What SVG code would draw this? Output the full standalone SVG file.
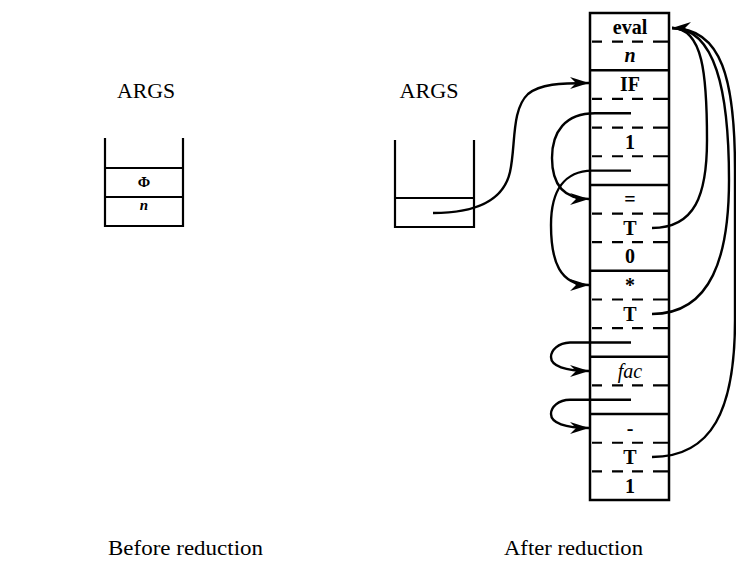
<svg xmlns="http://www.w3.org/2000/svg" xmlns:xlink="http://www.w3.org/1999/xlink" width="736" height="569" viewBox="0 0 736 569">
  <style>
    .bg { fill: #ffffff; }
    .box { fill: none; stroke: #000; stroke-width: 2.5; }
    .sep { stroke: #000; stroke-width: 2.5; fill: none; }
    .dsh { stroke: #000; stroke-width: 2.2; fill: none; }
    .stk { fill: none; stroke: #000; stroke-width: 2.2; }
    .ptr { stroke: #000; stroke-width: 2.2; fill: none; }
    .conn { fill: none; stroke: #000; stroke-width: 2.4; }
    .cell { font-family: "Liberation Serif", "Times New Roman", serif; font-weight: bold; font-size: 20px; text-anchor: middle; fill: #000; }
    .ital { font-style: italic; }
    .lbl { font-family: "Liberation Serif", "Times New Roman", serif; font-size: 22px; fill: #000; }
    .small { font-family: "Liberation Serif", "Times New Roman", serif; font-weight: bold; font-size: 15px; text-anchor: middle; fill: #000; }
  </style>
  <defs>
    <marker id="arr" viewBox="-20 -7 21 14" refX="0" refY="0" markerWidth="21" markerHeight="14" markerUnits="userSpaceOnUse" orient="auto">
      <path d="M0,0 L-19,-6 L-13,0 L-19,6 Z" fill="#000"/>
    </marker>
    <path id="dash" class="dsh" d="M592,0 H602 M612,0 H623 M632,0 H643 M653,0 H669"/>
    <line id="solid" class="sep" x1="590" y1="0" x2="669" y2="0"/>
  </defs>
  <rect class="bg" x="0" y="0" width="736" height="569"/>

  <!-- Before reduction: ARGS stack -->
  <g id="args-before">
    <text class="lbl" x="146" y="98" text-anchor="middle" textLength="58" lengthAdjust="spacingAndGlyphs">ARGS</text>
    <path class="stk" d="M105,138 V226 H183 V138"/>
    <line class="stk" x1="105" y1="168" x2="183" y2="168"/>
    <line class="stk" x1="105" y1="197" x2="183" y2="197"/>
    <text class="small" x="144" y="187">Φ</text>
    <text class="small ital" x="144" y="210">n</text>
  </g>

  <!-- After reduction: ARGS stack -->
  <g id="args-after">
    <text class="lbl" x="429" y="98" text-anchor="middle" textLength="59" lengthAdjust="spacingAndGlyphs">ARGS</text>
    <path class="stk" d="M395,140 V227 H474 V140"/>
    <line class="stk" x1="395" y1="198" x2="474" y2="198"/>
  </g>

  <!-- Graph column -->
  <g id="graph">
    <rect class="box" x="590" y="13" width="79" height="487"/>
    <use xlink:href="#dash" href="#dash" y="41.65"/>
    <use xlink:href="#solid" href="#solid" y="70.3"/>
    <use xlink:href="#dash" href="#dash" y="98.95"/>
    <use xlink:href="#dash" href="#dash" y="127.6"/>
    <use xlink:href="#dash" href="#dash" y="156.25"/>
    <use xlink:href="#solid" href="#solid" y="184.9"/>
    <use xlink:href="#dash" href="#dash" y="213.55"/>
    <use xlink:href="#dash" href="#dash" y="242.2"/>
    <use xlink:href="#solid" href="#solid" y="270.85"/>
    <use xlink:href="#dash" href="#dash" y="299.5"/>
    <use xlink:href="#dash" href="#dash" y="328.15"/>
    <use xlink:href="#solid" href="#solid" y="356.8"/>
    <use xlink:href="#dash" href="#dash" y="385.45"/>
    <use xlink:href="#solid" href="#solid" y="414.1"/>
    <use xlink:href="#dash" href="#dash" y="442.75"/>
    <use xlink:href="#dash" href="#dash" y="471.4"/>

    <text class="cell" x="630" y="34">eval</text>
    <text class="cell ital" x="630" y="62" font-size="18">n</text>
    <text class="cell" x="630" y="91">IF</text>
    <text class="cell" x="630" y="149">1</text>
    <text class="cell" x="630" y="206">=</text>
    <text class="cell" x="630" y="235">T</text>
    <text class="cell" x="630" y="263">0</text>
    <text class="cell" x="630" y="292">*</text>
    <text class="cell" x="630" y="321">T</text>
    <text class="cell ital" x="630" y="378" style="font-weight:normal">fac</text>
    <text class="cell" x="630" y="435">-</text>
    <text class="cell" x="630" y="464">T</text>
    <text class="cell" x="630" y="493">1</text>
  </g>

  <!-- Connectors -->
  <g id="connectors">
    <path class="conn" d="M433,213 C472,213 503,203 510,172 C516,145 511,110 528,94 C540,84 560,83 589,83" marker-end="url(#arr)"/>
    <path class="conn" d="M631,113.3 H595 C565,113.3 552,132 552,158 C552,186 565,199 589,199" marker-end="url(#arr)"/>
    <path class="conn" d="M631,170.6 H592 C565,171 551,190 551,225 C551,262 560,285 589,285" marker-end="url(#arr)"/>
    <path class="conn" d="M631,342.5 H570 C558,343 551,350 551,357 C551,366 565,371 589,371" marker-end="url(#arr)"/>
    <path class="conn" d="M631,399.8 H570 C558,400 551,407 551,414 C551,423 565,428 589,428" marker-end="url(#arr)"/>
    <path class="conn" d="M652,228 C695,228 707,195 707,140 C707,75 703,28 672,28"/>
    <path class="conn" d="M652,314 C712,314 729,255 729,180 C729,90 715,28 672,28"/>
    <path class="conn" d="M652,457 C712,457 735,410 735,320 L735,170 C735,80 722,28 672,28" marker-end="url(#arr)"/>
  </g>

  <!-- Captions -->
  <text class="lbl" x="108" y="555" textLength="155" lengthAdjust="spacingAndGlyphs">Before reduction</text>
  <text class="lbl" x="504" y="555" textLength="139" lengthAdjust="spacingAndGlyphs">After reduction</text>
</svg>
